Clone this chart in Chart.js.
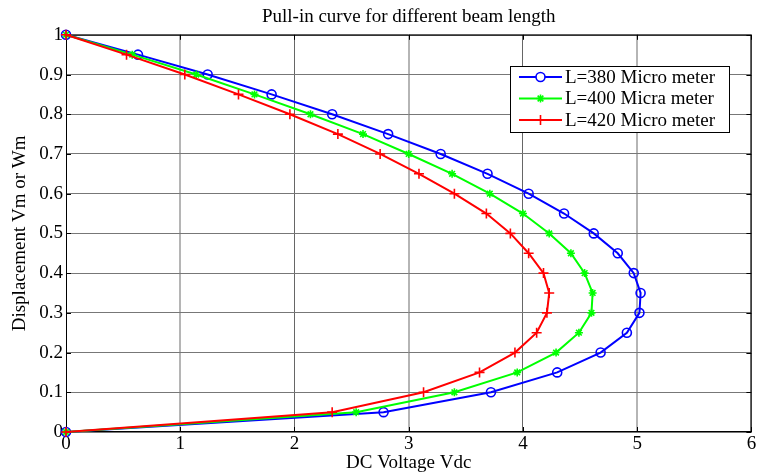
<!DOCTYPE html>
<html>
<head>
<meta charset="utf-8">
<script src="https://cdn.jsdelivr.net/npm/chart.js@4.4.1/dist/chart.umd.min.js"></script>
<style>
  html, body { margin: 0; padding: 0; background: #fff; }
  canvas { display: block; }
</style>
</head>
<body>
<canvas id="chart" width="758" height="474"></canvas>
<script>
// displacement levels (y) and the matching DC voltage for each beam length (x)
const dispLevels = [1, 0.95, 0.9, 0.85, 0.8, 0.75, 0.7, 0.65, 0.6, 0.55, 0.5, 0.45, 0.4, 0.35, 0.3, 0.25, 0.2, 0.15, 0.1, 0.05, 0];
const vdc380 = [0, 0.63, 1.24, 1.80, 2.33, 2.82, 3.28, 3.69, 4.05, 4.36, 4.62, 4.83, 4.97, 5.03, 5.02, 4.91, 4.68, 4.30, 3.72, 2.78, 0];
const vdc400 = [0, 0.58, 1.14, 1.65, 2.14, 2.60, 3.00, 3.38, 3.71, 4.00, 4.23, 4.42, 4.54, 4.61, 4.60, 4.49, 4.29, 3.95, 3.40, 2.54, 0];
const vdc420 = [0, 0.53, 1.04, 1.51, 1.96, 2.38, 2.75, 3.09, 3.40, 3.68, 3.89, 4.05, 4.18, 4.23, 4.21, 4.12, 3.93, 3.62, 3.13, 2.33, 0];
const seriesLabels = ['L=380 Micro meter', 'L=400 Micra meter', 'L=420 Micro meter'];
const xTicks = [0, 1, 2, 3, 4, 5, 6];
const yTicks = [0, 0.1, 0.2, 0.3, 0.4, 0.5, 0.6, 0.7, 0.8, 0.9, 1];

const serif = "'Liberation Serif', 'Times New Roman', serif";
const fontSize = 19;

var toPoints = function (xs) {
    return xs.map((x, i) => ({ x: x, y: dispLevels[i] }));
}

var makeSet = function (label, xs, color, style, radius, order) {
    return {
        label: label,
        data: toPoints(xs),
        borderColor: color,
        backgroundColor: 'rgba(0,0,0,0)',
        borderWidth: 2,
        pointStyle: style,
        pointRadius: radius,
        pointBorderColor: color,
        pointBorderWidth: 1.6,
        pointBackgroundColor: 'rgba(0,0,0,0)',
        tension: 0,
        fill: false,
        clip: false,
        order: order
    }
}

// box round the plot, inward tick marks and the legend box (MATLAB look)
const frame = {
    id: 'frame',
    beforeDatasetsDraw(chart) {
        const { ctx, chartArea: a, scales } = chart;
        ctx.save();
        ctx.strokeStyle = '#000';
        ctx.lineWidth = 1;
        ctx.strokeRect(a.left + 0.5, a.top + 0.5, a.right - a.left - 1, a.bottom - a.top - 1);
        ctx.beginPath();
        xTicks.forEach(t => {
            const px = Math.round(scales.x.getPixelForValue(t)) + 0.5;
            ctx.moveTo(px, a.bottom); ctx.lineTo(px, a.bottom - 5);
            ctx.moveTo(px, a.top); ctx.lineTo(px, a.top + 5);
        });
        yTicks.forEach(t => {
            const py = Math.round(scales.y.getPixelForValue(t)) + 0.5;
            ctx.moveTo(a.left, py); ctx.lineTo(a.left + 5, py);
            ctx.moveTo(a.right, py); ctx.lineTo(a.right - 5, py);
        });
        ctx.stroke();
        ctx.restore();
    },
    afterDatasetsDraw(chart) {
        const { ctx } = chart;
        ctx.save();
        // legend
        const bx = 510, by = 66, bw = 219, bh = 66;
        ctx.fillStyle = '#fff';
        ctx.fillRect(bx, by, bw, bh);
        ctx.strokeStyle = '#000';
        ctx.lineWidth = 1;
        ctx.strokeRect(bx + 0.5, by + 0.5, bw, bh);
        ctx.font = fontSize + 'px ' + serif;
        ctx.textBaseline = 'middle';
        chart.data.datasets.forEach((ds, i) => {
            const y = by + 11 + i * 21.5;
            ctx.strokeStyle = ds.borderColor;
            ctx.lineWidth = 2;
            ctx.beginPath();
            ctx.moveTo(bx + 9, y); ctx.lineTo(bx + 52, y);
            ctx.stroke();
            ctx.lineWidth = ds.pointBorderWidth;
            Chart.helpers.drawPoint(ctx, {
                pointStyle: ds.pointStyle, radius: ds.pointRadius, rotation: 0,
                borderWidth: ds.pointBorderWidth
            }, bx + 30.5, y);
            ctx.fillStyle = '#000';
            ctx.fillText(ds.label, bx + 55, y + 1);
        });
        ctx.restore();
    }
}

const ctx = document.getElementById('chart').getContext('2d');
const chart = new Chart(ctx, {
    type: 'line',
    data: {
        datasets: [
            makeSet(seriesLabels[0], vdc380, '#0000ff', 'circle', 4.5, 2),
            makeSet(seriesLabels[1], vdc400, '#00ff00', 'star', 4, 1),
            makeSet(seriesLabels[2], vdc420, '#ff0000', 'cross', 5, 0)
        ]
    },
    plugins: [frame],
    options: {
        responsive: false,
        animation: false,
        devicePixelRatio: 1,
        layout: { padding: { right: 1, left: 0, top: 0, bottom: 0 } },
        plugins: {
            legend: { display: false },
            tooltip: { enabled: false },
            title: {
                display: true,
                fullSize: false,
                text: 'Pull-in curve for different beam length',
                color: '#000',
                font: { family: serif, size: fontSize, weight: 'normal' },
                padding: { top: 6, bottom: 6 }
            }
        },
        scales: {
            x: {
                type: 'linear',
                min: 0,
                max: 6,
                afterBuildTicks: function (scale) { scale.ticks = xTicks.map(v => ({ value: v })); },
                afterFit: function (scale) { scale.height = 42; },
                border: { display: false },
                grid: {
                    drawTicks: false,
                    color: ctx => (ctx.tick && ctx.tick.value % 2 == 1) ? '#b5b5b5' : '#666',
                    lineWidth: ctx => (ctx.tick && ctx.tick.value % 2 == 1) ? 2 : 1
                },
                ticks: {
                    color: '#000',
                    padding: 1,
                    font: { family: serif, size: fontSize }
                },
                title: {
                    display: true,
                    text: 'DC Voltage Vdc',
                    color: '#000',
                    font: { family: serif, size: fontSize },
                    padding: { top: 0, bottom: 0 }
                }
            },
            y: {
                type: 'linear',
                min: 0,
                max: 1,
                afterBuildTicks: function (scale) { scale.ticks = yTicks.map(v => ({ value: v })); },
                afterFit: function (scale) { scale.width = 66; },
                border: { display: false },
                grid: {
                    drawTicks: false,
                    color: '#777',
                    lineWidth: 1
                },
                ticks: {
                    color: '#000',
                    padding: 3,
                    font: { family: serif, size: fontSize },
                    callback: v => String(v)
                },
                title: {
                    display: true,
                    text: 'Displacement Vm or Wm',
                    color: '#000',
                    font: { family: serif, size: fontSize },
                    padding: { top: 9, bottom: 0 }
                }
            }
        }
    }
});
</script>
</body>
</html>
